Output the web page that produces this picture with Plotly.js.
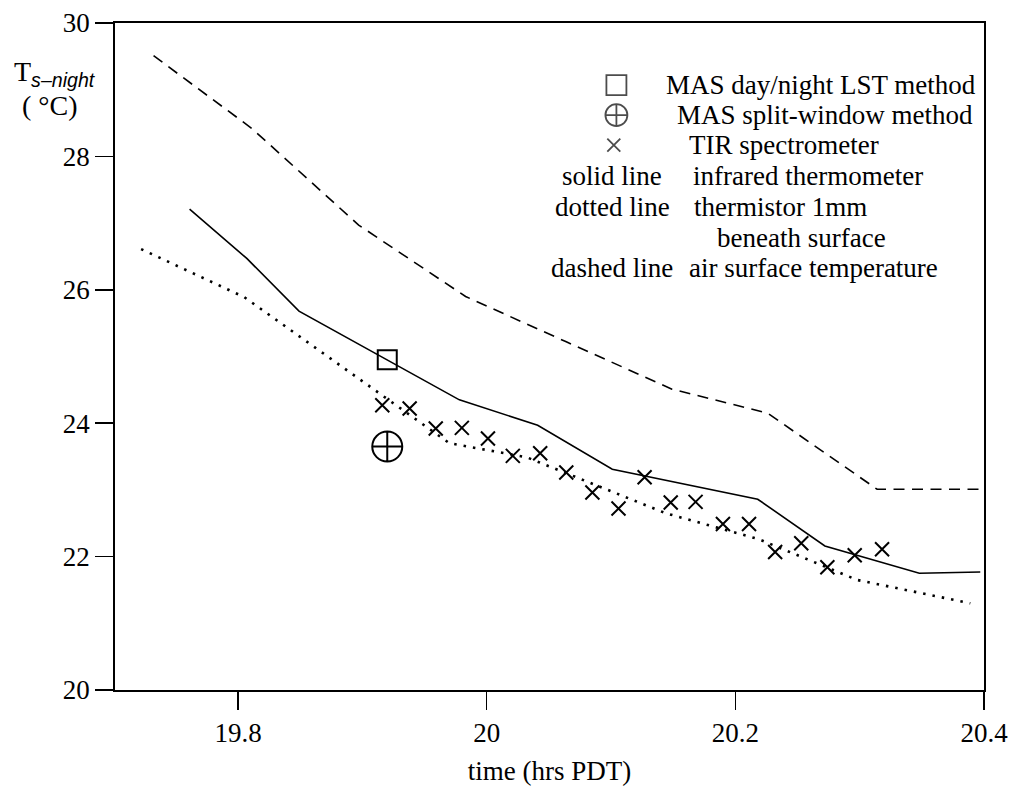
<!DOCTYPE html>
<html>
<head>
<meta charset="utf-8">
<script src="https://cdn.plot.ly/plotly-3.0.1.min.js"></script>
<style>html,body{margin:0;padding:0;background:#fff;}#chart{width:1013px;height:787px;}</style>
</head>
<body>
<div id="chart"></div>
<script>
// ---- data ----
var airTime = [19.732, 19.811, 19.897, 19.983, 20.064, 20.149, 20.226, 20.314, 20.397];
var airTemp = [29.51, 28.42, 26.97, 25.90, 25.22, 24.51, 24.15, 23.01, 23.01];

var irtTime = [19.761, 19.807, 19.849, 19.978, 20.041, 20.101, 20.218, 20.272, 20.348, 20.397];
var irtTemp = [27.21, 26.47, 25.68, 24.35, 23.97, 23.31, 22.86, 22.16, 21.75, 21.77];

var thermTime = [19.722, 19.805, 19.970, 20.032, 20.144, 20.219, 20.298, 20.389];
var thermTemp = [26.61, 25.89, 23.70, 23.49, 22.65, 22.26, 21.65, 21.30];

var tirTime = [19.916, 19.938, 19.959, 19.980, 20.001, 20.021, 20.043, 20.064, 20.085, 20.106,
               20.127, 20.148, 20.168, 20.190, 20.211, 20.232, 20.253, 20.274, 20.296, 20.318];
var tirTemp = [24.27, 24.22, 23.92, 23.93, 23.77, 23.51, 23.55, 23.26, 22.96, 22.72,
               23.19, 22.81, 22.82, 22.49, 22.49, 22.07, 22.20, 21.84, 22.02, 22.11];

var masDayNightTime = [19.920];
var masDayNightTemp = [24.95];
var masSplitTime = [19.920];
var masSplitTemp = [23.65];

var xTickVals = [19.8, 20, 20.2, 20.4];
var xTickText = ['19.8', '20', '20.2', '20.4'];
var yTickVals = [20, 22, 24, 26, 28, 30];
var yTickText = ['20', '22', '24', '26', '28', '30'];

var keySymbolLabels = ['', '', '', 'solid line', 'dotted line', '', 'dashed line'];
var keyDescriptions = ['MAS day/night LST method', 'MAS split-window method', 'TIR spectrometer',
                       'infrared thermometer', 'thermistor 1mm', 'beneath surface', 'air surface temperature'];

// ---- layout helpers (positions in paper fractions) ----
var FONT = '"Liberation Serif", "Times New Roman", serif';
var FS = 27;
var keyRowY = [0.907, 0.862, 0.817, 0.771, 0.724, 0.678, 0.633];
var keyLabelX = 0.572;
var keyDescX = [0.632, 0.644, 0.658, 0.663, 0.664, 0.690, 0.658];
var keySymX = [0.577, 0.577, 0.574];

var traces = [
  {x: airTime, y: airTemp, mode: 'lines', line: {color: '#000', width: 1.6, dash: '11px,7.5px'}, hoverinfo: 'skip'},
  {x: irtTime, y: irtTemp, mode: 'lines', line: {color: '#000', width: 1.6}, hoverinfo: 'skip'},
  {x: thermTime, y: thermTemp, mode: 'lines', line: {color: '#000', width: 2.6, dash: '2.5px,7px'}, hoverinfo: 'skip'},
  {x: tirTime, y: tirTemp, mode: 'markers',
   marker: {symbol: 'x-thin-open', size: 14, color: '#000', line: {color: '#000', width: 2}}},
  {x: masDayNightTime, y: masDayNightTemp, mode: 'markers',
   marker: {symbol: 'square-open', size: 19, color: '#000', line: {color: '#000', width: 2}}},
  {x: masSplitTime, y: masSplitTemp, mode: 'markers',
   marker: {symbol: 'circle-cross-open', size: 30, color: '#000', line: {color: '#000', width: 2}}},
  // key symbols drawn on an overlay axis spanning 0..1
  {x: keySymX, y: keyRowY.slice(0, 3), xaxis: 'x2', yaxis: 'y2', mode: 'markers', hoverinfo: 'skip',
   marker: {symbol: ['square-open', 'circle-cross-open', 'x-thin-open'], size: [20, 22, 13],
            color: '#000', line: {color: '#000', width: 1.8}}}
];

var annotations = [];
for (var i = 0; i < keyDescriptions.length; i++) {
  if (keySymbolLabels[i]) {
    annotations.push({xref: 'paper', yref: 'paper', x: keyLabelX, y: keyRowY[i], xanchor: 'center', yanchor: 'middle',
      text: keySymbolLabels[i], showarrow: false, font: {family: FONT, size: FS, color: '#000'}});
  }
  annotations.push({xref: 'paper', yref: 'paper', x: keyDescX[i], y: keyRowY[i], xanchor: 'left', yanchor: 'middle',
    text: keyDescriptions[i], showarrow: false, font: {family: FONT, size: FS, color: '#000'}});
}
// y-axis title
annotations.push({xref: 'paper', yref: 'paper', x: -0.119, y: 0.925, xanchor: 'left', yanchor: 'middle', showarrow: false,
  text: 'T<sub><i><span style="font-family:\'Liberation Sans\', Arial, sans-serif">s\u2013night</span></i></sub>',
  font: {family: FONT, size: 28, color: '#000'}});
annotations.push({xref: 'paper', yref: 'paper', x: -0.0748, y: 0.8756, xanchor: 'center', yanchor: 'middle', showarrow: false,
  text: '( \u00b0C)', font: {family: FONT, size: 28, color: '#000'}});

var axisCommon = {
  showline: true, linecolor: '#000', linewidth: 1.8, mirror: true,
  ticks: 'outside', ticklen: 18, tickwidth: 1.5, tickcolor: '#000',
  showgrid: false, zeroline: false,
  tickfont: {family: FONT, size: FS, color: '#000'}
};

var layout = {
  width: 1013, height: 787,
  margin: {l: 115, r: 29, t: 23, b: 97},
  paper_bgcolor: '#fff', plot_bgcolor: '#fff',
  showlegend: false,
  xaxis: Object.assign({}, axisCommon, {
    range: [19.701, 20.4], tickmode: 'array', tickvals: xTickVals, ticktext: xTickText,
    title: {text: 'time (hrs PDT)', font: {family: FONT, size: FS, color: '#000'}, standoff: 14}
  }),
  yaxis: Object.assign({}, axisCommon, {
    range: [20, 30], tickmode: 'array', tickvals: yTickVals, ticktext: yTickText
  }),
  xaxis2: {overlaying: 'x', range: [0, 1], visible: false, anchor: 'y2'},
  yaxis2: {overlaying: 'y', range: [0, 1], visible: false, anchor: 'x2'},
  annotations: annotations
};

Plotly.newPlot('chart', traces, layout, {staticPlot: true, displayModeBar: false});
</script>
</body>
</html>
